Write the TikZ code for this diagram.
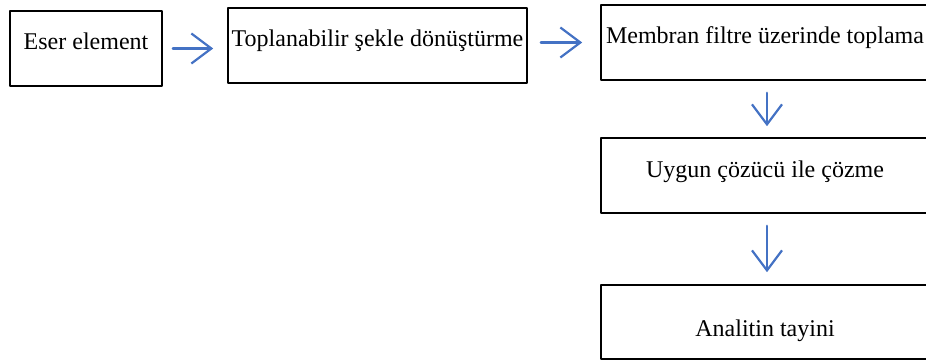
\documentclass[tikz,border=0pt]{standalone}
\usepackage{fontspec}
\setmainfont{Liberation Serif}
\usepackage{xcolor}
\usetikzlibrary{arrows.meta,calc}

\definecolor{flowblue}{RGB}{68,114,196}

\begin{document}
\begin{tikzpicture}[
  x=1pt, y=-1pt,
  >={Straight Barb[length=20pt,width=30pt]},
  line cap=round,
  line join=round,
  every node/.style={font=\fontsize{24}{28}\selectfont},
  box/.style={draw=black, line width=1.6pt, inner sep=0pt,
    text height=39pt, text depth=36pt, minimum width=#1},
  flow/.style={->, draw=flowblue, line width=2.2pt}
]
  \clip (0,0) rectangle (926,361);

  \node[box=152pt] (eser)     at ( 86  , 48.5) {Eser element};
  \node[box=299pt] (donustur) at (377.5, 45.5) {Toplanabilir şekle dönüştürme};
  \node[box=328pt] (membran)  at (765  , 42.5) {Membran filtre üzerinde toplama};
  \node[box=328pt] (cozme)    at (765  ,175.5) {Uygun çözücü ile çözme};
  \node[box=328pt, text height=51pt, text depth=23pt] (tayin) at (765, 322) {Analitin tayini};

  % left to right along the top row
  \draw[flow, shorten <=10pt, shorten >=14pt] (eser.east) -- (eser.east -| donustur.west);
  \draw[flow, shorten <=13pt, shorten >=18pt] (membran.west -| donustur.east) -- (membran.west);
  % then down the right column
  \draw[flow, shorten <=12pt, shorten >=11pt] ($(membran.south)+(2,0)$) -- ($(cozme.north)+(2,0)$);
  \draw[flow, shorten <=12pt, shorten >=12pt] ($(cozme.south)+(2,0)$) -- ($(tayin.north)+(2,0)$);
\end{tikzpicture}
\end{document}
